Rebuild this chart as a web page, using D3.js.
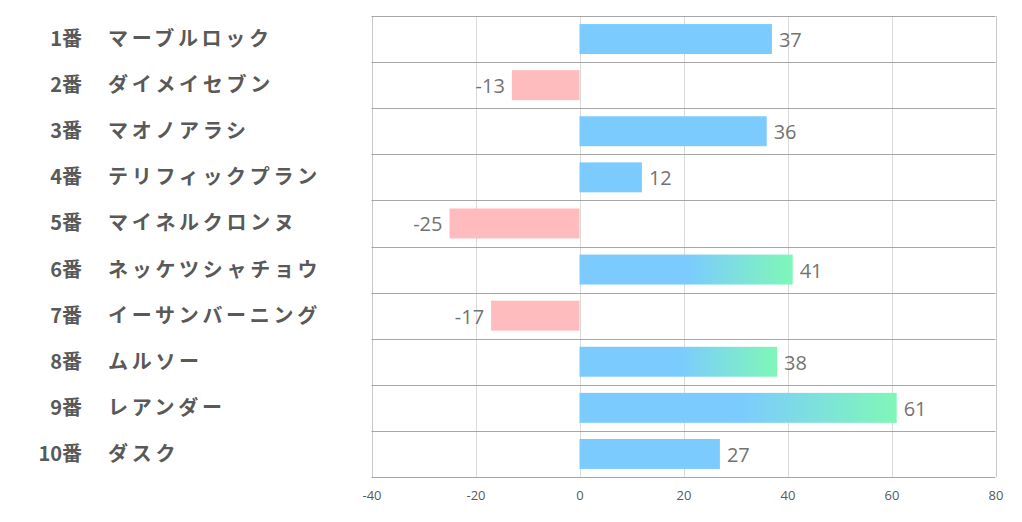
<!DOCTYPE html>
<html><head><meta charset="utf-8">
<script src="https://cdn.jsdelivr.net/npm/d3@7"></script>
<style>body{margin:0;background:#fff;}svg{display:block;}</style>
</head><body><svg id="c" width="1022" height="522"></svg>
<script>
const numbers = ["1番","2番","3番","4番","5番","6番","7番","8番","9番","10番"];
const names = ["マーブルロック","ダイメイセブン","マオノアラシ","テリフィックプラン","マイネルクロンヌ","ネッケツシャチョウ","イーサンバーニング","ムルソー","レアンダー","ダスク"];
const values = [37,-13,36,12,-25,41,-17,38,61,27];
const highlighted = [false,false,false,false,false,true,false,true,true,false];
const ticks = [-40,-20,0,20,40,60,80];

(function(){
const svg = d3.select("#c");
const pL = 371.5, pR = 995.5, pT = 16, pB = 477;
const x = d3.scaleLinear().domain([-40,80]).range([pL,pR]);
const y = d3.scaleBand().domain(d3.range(values.length)).range([pT,pB]).paddingInner(0.35).paddingOuter(0.175);
const rowH = (pB-pT)/values.length;

const defs = svg.append("defs");
const g = defs.append("linearGradient").attr("id","grad").attr("x1","0").attr("x2","1").attr("y1","0").attr("y2","0");
g.append("stop").attr("offset","0.5").attr("stop-color","#7bcbff");
g.append("stop").attr("offset","1").attr("stop-color","#7ff7b8");

// vertical grid
svg.append("g").selectAll("line").data(ticks).join("line")
  .attr("x1",d=>Math.round(x(d))+0.5).attr("x2",d=>Math.round(x(d))+0.5)
  .attr("y1",pT).attr("y2",pB)
  .attr("stroke",(d,i)=> (i===0||i===ticks.length-1)?"#c8c8c8":"#d9d9d9").attr("stroke-width",1);

// horizontal lines
svg.append("g").selectAll("line").data(d3.range(values.length+1)).join("line")
  .attr("x1",pL).attr("x2",pR)
  .attr("y1",i=>Math.round(pT+i*rowH)+0.5).attr("y2",i=>Math.round(pT+i*rowH)+0.5)
  .attr("stroke","#a6a6a6").attr("stroke-width",1);

// bars
svg.append("g").selectAll("rect").data(values).join("rect")
  .attr("x",d=>x(Math.min(0,d)))
  .attr("width",d=>Math.abs(x(d)-x(0)))
  .attr("y",(d,i)=>y(i))
  .attr("height",y.bandwidth())
  .attr("fill",(d,i)=> d<0 ? "#ffbcbe" : (highlighted[i] ? "url(#grad)" : "#7bcbff"));

// value labels
svg.append("g").selectAll("text").data(values).join("text")
  .attr("x",d=> d<0 ? x(d)-7 : x(d)+7)
  .attr("y",(d,i)=>y(i)+y.bandwidth()/2+1)
  .attr("dy","0.35em")
  .attr("text-anchor",d=>d<0?"end":"start")
  .attr("font-family","'Open Sans','Noto Sans',sans-serif")
  .attr("font-size",20).attr("fill","#737373")
  .text(d=>d);

// category labels
const lab = svg.append("g");
lab.selectAll("text.num").data(numbers).join("text").attr("class","num")
  .attr("x",82).attr("y",(d,i)=>pT+(i+0.5)*rowH).attr("dy","0.35em")
  .attr("text-anchor","end")
  .attr("font-family","'Noto Sans CJK JP',sans-serif").attr("font-weight","bold")
  .attr("font-size",20).attr("fill","#595959").text(d=>d);
lab.selectAll("text.name").data(names).join("text").attr("class","name")
  .attr("x",108).attr("y",(d,i)=>pT+(i+0.5)*rowH).attr("dy","0.35em")
  .attr("font-family","'Noto Sans CJK JP',sans-serif").attr("font-weight","bold")
  .attr("letter-spacing","3.7px")
  .attr("font-size",20).attr("fill","#595959").text(d=>d);

// x axis ticks
const ax = svg.append("g").attr("transform",`translate(0,${pB})`)
  .call(d3.axisBottom(x).tickValues(ticks).tickFormat(d=>String(d)).tickSize(0).tickPadding(14));
ax.select(".domain").remove();
ax.selectAll("text").attr("font-family","'Open Sans','Noto Sans',sans-serif").attr("font-size",13).attr("fill","#595959");
})();
</script></body></html>
